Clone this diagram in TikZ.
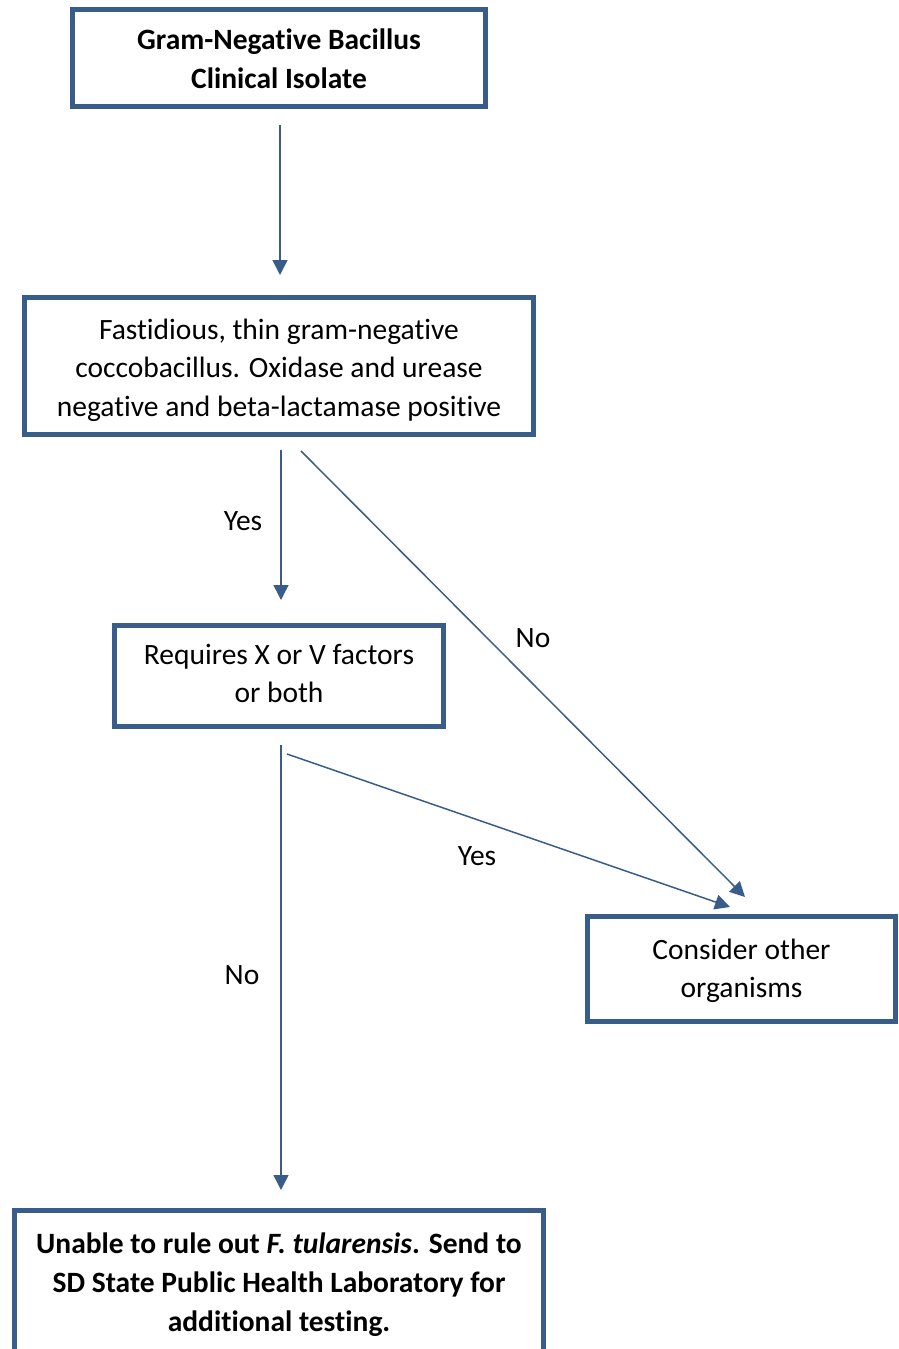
\documentclass[tikz,border=0pt]{standalone}
\usepackage{fontspec}
\setmainfont[Ligatures={NoCommon}]{Carlito}
\usetikzlibrary{arrows.meta}
\definecolor{boxblue}{HTML}{385D8A}
\newcommand\boxtext[2][0pt]{\raisebox{-#1}[\height][\depth]{\begin{tabular}{@{}c@{}}#2\end{tabular}}}
\tikzset{
  box/.style={draw=boxblue, line width=5pt, inner sep=0pt, font=\fontsize{29.5}{38.5}\selectfont},
  boldbox/.style={box, font=\fontsize{29.5}{39}\selectfont\bfseries},
  conn/.style={draw=boxblue, line width=1.5pt, -{Triangle[length=15pt,width=15pt]}},
  lbl/.style={font=\fontsize{29.5}{38.5}\selectfont, inner sep=0pt}
}
\begin{document}
\begin{tikzpicture}[x=1pt,y=-1pt]
\useasboundingbox (0,0) rectangle (898,1349);
\node[boldbox, minimum width=413pt, minimum height=97pt] (b1) at (279,58) {\boxtext[3pt]{Gram-Negative Bacillus\\Clinical Isolate}};
\node[box, minimum width=509pt, minimum height=137pt] (b2) at (279,366) {\boxtext[4pt]{Fastidious, thin gram-negative\\coccobacillus. Oxidase and urease\\negative and beta-lactamase positive}};
\node[box, minimum width=329pt, minimum height=101pt] (b3) at (279,676) {\boxtext[0pt]{Requires X or V factors\\or both}};
\node[box, minimum width=308pt, minimum height=105pt] (b4) at (741.5,969) {\boxtext[2pt]{Consider other\\organisms}};
\node[boldbox, minimum width=529pt, minimum height=143pt] (b5) at (279,1282) {\boxtext[3pt]{Unable to rule out \textit{F. tularensis}. Send to\\SD State Public Health Laboratory for\\additional testing.}};
\draw[conn, shorten <=16pt, shorten >=20pt] ([xshift=1pt]b1.south) -- ([xshift=1pt]b2.north);
\draw[conn, shorten <=13pt, shorten >=23pt] ([xshift=2pt]b2.south) -- ([xshift=2pt]b3.north);
\draw[conn, shorten <=16pt, shorten >=18pt] ([xshift=2pt]b3.south) -- ([xshift=2pt]b5.north);
\coordinate (a3s) at (301,451);
\coordinate (a3e) at (745,897);
\coordinate (a4s) at (287,754);
\coordinate (a4e) at (730,907);
\draw[conn] (a3s) -- (a3e);
\draw[conn] (a4s) -- (a4e);
\node[lbl] (l1) at (243,521) {Yes};
\node[lbl] (l2) at (533,638) {No};
\node[lbl] (l3) at (477,856) {Yes};
\node[lbl] (l4) at (242,975) {No};
\end{tikzpicture}
\end{document}
